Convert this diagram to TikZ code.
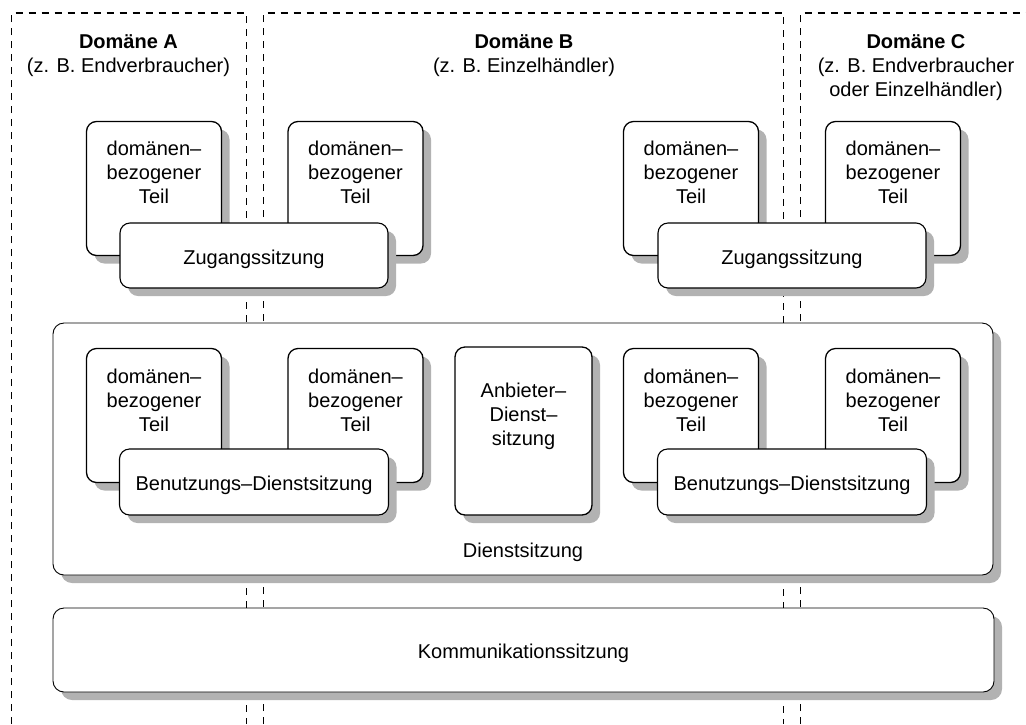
\documentclass[tikz,border=0pt]{standalone}
\usepackage{fontspec}
\setmainfont{Liberation Sans}
\usetikzlibrary{shadows,calc}

\tikzset{
  shade box/.style={drop shadow={shadow xshift=8pt, shadow yshift=-8pt, fill=black!30, opacity=1}},
  card/.style={draw, line width=1.3pt, rounded corners=10pt, fill=white, shade box,
               minimum width=135pt, minimum height=134pt, inner sep=0pt},
  sess/.style={draw, line width=1.1pt, rounded corners=10pt, fill=white, shade box,
               minimum width=268pt, minimum height=65pt, inner sep=0pt},
  panel/.style={draw, line width=0.9pt, rounded corners=11pt, fill=white, shade box, inner sep=0pt},
  domline/.style={line width=1.2pt, dash pattern=on 7pt off 6pt},
  lbl/.style={align=center, inner sep=0pt, font=\fontsize{20}{24}\selectfont},
}

\begin{document}
\begin{tikzpicture}[x=1pt, y=-1pt]
\useasboundingbox (0,0) rectangle (1026,724);

% domain borders (open at the bottom)
\draw[domline] (11.5,724) -- (11.5,13) -- (246.5,13) -- (246.5,724);
\draw[domline] (263.5,724) -- (263.5,13) -- (783.5,13) -- (783.5,724);
\draw[domline] (800.5,724) -- (800.5,13) -- (1026,13);

% domain titles
\node[lbl, anchor=north] (tA) at (128.5,34) {\textbf{Domäne A}\\(z. B. Endverbraucher)};
\node[lbl, anchor=north] (tB) at (524,34) {\textbf{Domäne B}\\(z. B. Einzelhändler)};
\node[lbl, anchor=north] (tC) at (916,34) {\textbf{Domäne C}\\(z. B. Endverbraucher\\oder Einzelhändler)};

% access sessions with their domain-related parts
\node[card] (a1) at (154,188.5) {};
\node[card] (a2) at (355.5,188.5) {};
\node[card] (a3) at (691,188.5) {};
\node[card] (a4) at (893,188.5) {};
\foreach \n in {a1,a2,a3,a4}
  \node[lbl, anchor=north] (\n t) at ($(\n.north)+(0,20)$) {domänen–\\bezogener\\Teil};
\node[sess] (z1) at (254,255.5) {};
\node[lbl] (z1t) at ($(z1.center)+(0,3.5)$) {Zugangssitzung};
\node[sess] (z2) at (792,255.5) {};
\node[lbl] (z2t) at ($(z2.center)+(0,3.5)$) {Zugangssitzung};

% service session
\node[panel, minimum width=940pt, minimum height=252pt] (ds) at (523,449) {};
\node[lbl] (dst) at (523,552) {Dienstsitzung};
\node[card] (b1) at (154,415.5) {};
\node[card] (b2) at (355.5,415.5) {};
\node[card] (b3) at (691,415.5) {};
\node[card] (b4) at (893,415.5) {};
\foreach \n in {b1,b2,b3,b4}
  \node[lbl, anchor=north] (\n t) at ($(\n.north)+(0,21)$) {domänen–\\bezogener\\Teil};
\node[card, minimum width=137pt, minimum height=168pt] (pv) at (523.5,431) {};
\node[lbl, anchor=north] (pvt) at ($(pv.north)+(0,36)$) {Anbieter–\\Dienst–\\sitzung};
\node[sess, minimum width=269pt, minimum height=66pt] (u1) at (254,482) {};
\node[lbl] (u1t) at ($(u1.center)+(0,3.5)$) {Benutzungs–Dienstsitzung};
\node[sess, minimum width=269pt, minimum height=66pt] (u2) at (792,482) {};
\node[lbl] (u2t) at ($(u2.center)+(0,3.5)$) {Benutzungs–Dienstsitzung};

% communication session
\node[panel, minimum width=941pt, minimum height=84pt] (ks) at (523.5,650) {};
\node[lbl] (kst) at ($(ks.center)+(0,3)$) {Kommunikationssitzung};
\end{tikzpicture}
\end{document}
